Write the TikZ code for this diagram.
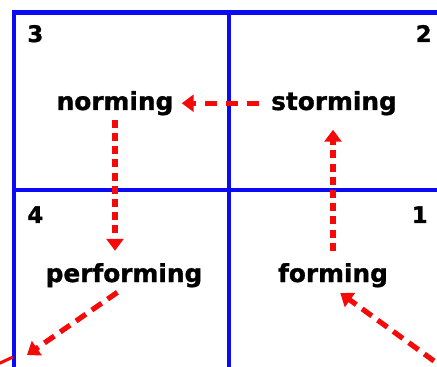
\documentclass[tikz,border=0pt]{standalone}
\usepackage{fontspec}
\usepackage{tikz}
\usetikzlibrary{arrows.meta,positioning}
\newfontfamily\stagefont{DejaVu Sans}[BoldFont={DejaVu Sans Bold},BoldFeatures={FakeBold=1.2}]
\definecolor{gridblue}{RGB}{10,10,245}
\definecolor{cyclered}{RGB}{245,10,10}
\tikzset{
  stagelabel/.style={
    inner sep=0pt,
    anchor=base,
    font=\stagefont\bfseries\fontsize{12.4}{14}\selectfont
  },
  cornernum/.style={
    inner sep=0pt,
    font=\stagefont\bfseries\fontsize{11.4}{13}\selectfont
  },
  gridline/.style={draw=gridblue,line width=1.6pt},
  cycleline/.style={
    draw=cyclered,
    line width=2.6pt,
    dash pattern=on 6pt off 4pt,
    -{Triangle[length=6pt,width=8.5pt]}
  }
}
\begin{document}
\begin{tikzpicture}[x=0.5pt,y=-0.5pt]
  \clip (0,0) rectangle (437,367);
  \fill[white] (0,0) rectangle (437,367);
  % quadrants
  \draw[gridline] (229,12) -- (229,372);
  \draw[gridline] (14,190) -- (442,190);
  \draw[draw=gridblue,line width=2.3pt] (14,12.5) rectangle (443,371);
  % corner numbers
  \node[cornernum,anchor=base west] (n3) at (27,42) {3};
  \node[cornernum,anchor=base east] (n2) at (432,42) {2};
  \node[cornernum,anchor=base west] (n4) at (27,223) {4};
  \node[cornernum,anchor=base east] (n1) at (428,223) {1};
  % stages
  \node[stagelabel] (norming) at (115,110) {norming};
  \node[stagelabel] (storming) at (334,110) {storming};
  \node[stagelabel] (performing) at (124,282) {performing};
  \node[stagelabel] (forming) at (333,282) {forming};
  \coordinate (outleft) at (27,355);
  \coordinate (inright) at (434,361);
  \coordinate (redA) at (-2,364);
  \coordinate (redB) at (13,357);
  % cycle arrows
  \draw[cycleline,dash pattern=on 6pt off 4.5pt,shorten <=6pt,shorten >=4pt] (storming.west) -- (norming.east);
  \draw[cycleline,line width=3.2pt,dash pattern=on 4pt off 2.6pt,shorten <=2pt,shorten >=6pt]
    (norming.south) -- (norming.south |- performing.north);
  \draw[cycleline,line width=3pt,dash pattern=on 4pt off 2.6pt,shorten <=6pt,shorten >=7pt]
    (forming.north) -- (forming.north |- storming.south);
  \draw[cycleline,dash pattern=on 6pt off 3.6pt,shorten <=4pt] (performing.south) -- (outleft);
  \draw[cycleline,dash pattern=on 6pt off 3.6pt,shorten >=4.5pt] (inright) -- (forming.south);
  \draw[cyclered,line width=1.5pt] (redA) -- (redB);
\end{tikzpicture}
\end{document}
